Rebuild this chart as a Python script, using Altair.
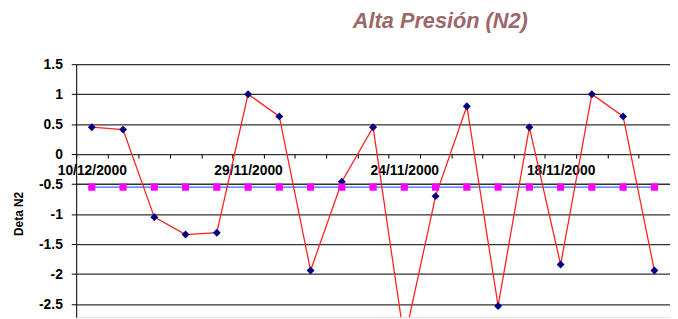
import altair as alt
import pandas as pd

fechas = ["10/12/2000", "06/12/2000", "04/12/2000", "02/12/2000", "01/12/2000",
          "29/11/2000", "28/11/2000", "27/11/2000", "26/11/2000", "25/11/2000",
          "24/11/2000", "23/11/2000", "22/11/2000", "21/11/2000", "20/11/2000",
          "18/11/2000", "17/11/2000", "16/11/2000", "15/11/2000"]
deta_n2 = [0.45, 0.41, -1.05, -1.34, -1.31, 1.0, 0.63, -1.94, -0.46, 0.45,
           -3.1, -0.70, 0.80, -2.53, 0.45, -1.84, 1.0, 0.63, -1.94]
referencia = [-0.55] * 19
etiquetas_x = ["10/12/2000", "29/11/2000", "24/11/2000", "18/11/2000"]
ticks_y = [-2.5, -2, -1.5, -1, -0.5, 0, 0.5, 1, 1.5]

FONT = "Liberation Sans"
W, H = 601, 256
YMIN, YMAX = -2.717, 1.5
zero_off = H * (0 - YMIN) / (YMAX - YMIN)

df = pd.DataFrame({"fecha": fechas, "deta": deta_n2, "ref": referencia})

label_expr = "indexof([" + ",".join("'" + e + "'" for e in etiquetas_x) + "], datum.value) >= 0 ? datum.value : ''"

x = alt.X("fecha:N", sort=None,
          scale=alt.Scale(type="band", paddingInner=0, paddingOuter=0),
          axis=alt.Axis(orient="bottom", offset=-zero_off, domain=False, grid=False,
                        ticks=True, tickBand="extent", tickSize=4, tickColor="#000000",
                        labelAngle=0, labelFont=FONT, labelFontWeight="bold",
                        labelFontSize=14, labelColor="#000000", labelPadding=6,
                        labelExpr=label_expr, labelOverlap=False, title=None))

yscale = alt.Scale(domain=[YMIN, YMAX], nice=False, zero=False)
yaxis = alt.Axis(values=ticks_y, tickCount=9, grid=True, gridColor="#333333", gridWidth=1.3,
                 domain=True, domainColor="#000000", tickColor="#000000", tickSize=5,
                 labelFont=FONT, labelFontWeight="bold", labelFontSize=14,
                 labelColor="#000000", labelPadding=9, labelExpr="datum.value + ''",
                 labelOverlap=False, labelBound=False,
                 title="Deta N2", titleFont=FONT, titleFontWeight="bold", titleFontSize=12,
                 titleColor="#000000", titleAngle=270, titleX=-58, titleY=151,
                 titleAlign="center", titleBaseline="middle")

base = alt.Chart(df)

ref_line = base.mark_line(color="#3366FF", strokeWidth=1.2, clip=True).encode(
    x=x, y=alt.Y("ref:Q", scale=yscale, axis=yaxis))
ref_pts = base.mark_point(shape="square", filled=True, opacity=1, color="#FF00FF",
                          size=52, clip=True).encode(
    x=x, y=alt.Y("ref:Q", scale=yscale, axis=yaxis))
red_line = base.mark_line(color="#FF2222", strokeWidth=1.3, clip=True).encode(
    x=x, y=alt.Y("deta:Q", scale=yscale, axis=yaxis))
red_pts = base.mark_point(shape="diamond", filled=True, opacity=1, color="#000080",
                          size=64, clip=True).encode(
    x=x, y=alt.Y("deta:Q", scale=yscale, axis=yaxis))

chart = alt.layer(ref_line, red_line, red_pts, ref_pts).properties(
    width=W, height=H,
    autosize=alt.AutoSizeParams(type="none"),
    padding={"left": 69, "top": 55, "right": 0, "bottom": 0},
    title=alt.TitleParams("Alta Presión (N2)", anchor="start", frame="group", dx=280,
                          offset=8, baseline="alphabetic", font=FONT, fontSize=22,
                          fontWeight="bold", fontStyle="italic", color="#9A6868"),
).configure_view(strokeWidth=0).configure(background="#FFFFFF")

chart.save("out.html", embed_options={"renderer": "svg", "actions": False})
